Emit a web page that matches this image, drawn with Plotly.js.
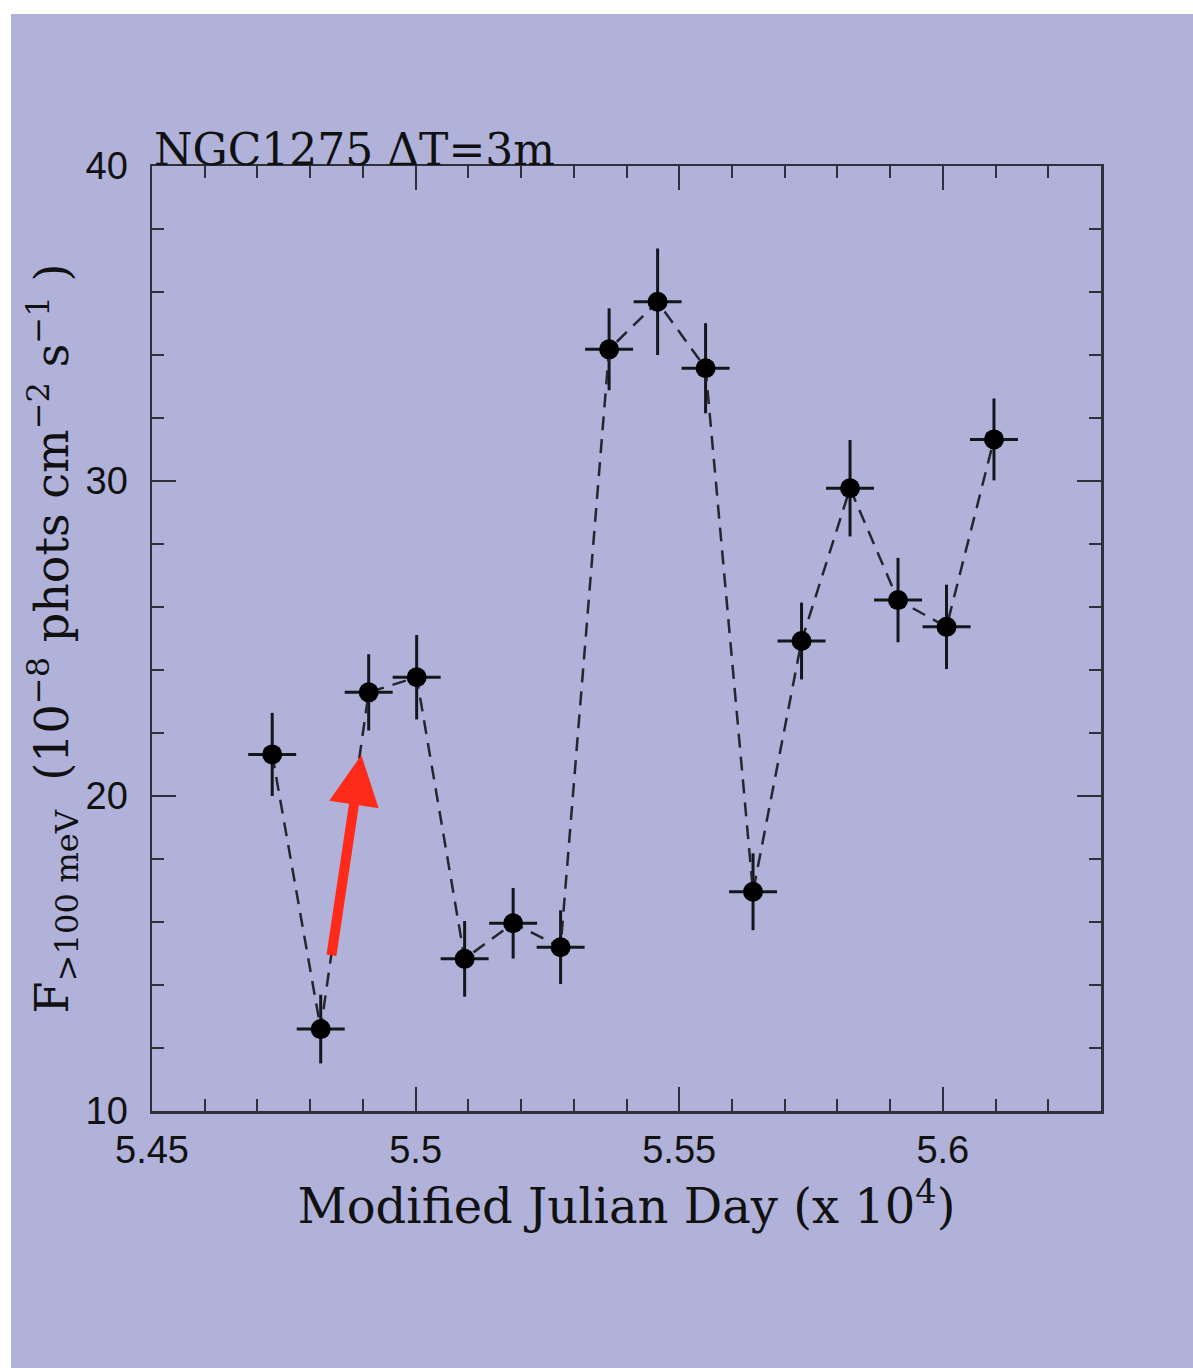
<!DOCTYPE html>
<html><head><meta charset="utf-8">
<script src="https://cdn.plot.ly/plotly-3.0.1.min.js"></script>
<style>
html,body{margin:0;padding:0;background:#ffffff;}
#plot{position:absolute;left:11px;top:14px;width:1182px;height:1354px;}
</style>
</head><body><div id="plot"></div>
<script>
// Modified Julian Day (x 10^4), bin centres
const mjd = [5.4728, 5.4820, 5.4911, 5.5002, 5.5093, 5.5185, 5.5275, 5.5367,
             5.5459, 5.5550, 5.5640, 5.5732, 5.5824, 5.5915, 5.6007, 5.6097];
// F(>100 MeV) in 1e-8 phot cm^-2 s^-1
const flux = [21.32, 12.60, 23.29, 23.77, 14.83, 15.96, 15.20, 34.18,
              35.69, 33.58, 16.96, 24.92, 29.77, 26.22, 25.37, 31.32];
const fluxErr = [1.32, 1.09, 1.21, 1.34, 1.20, 1.12, 1.17, 1.30,
                 1.69, 1.43, 1.22, 1.22, 1.53, 1.34, 1.34, 1.30];
const mjdErr = [0.00455, 0.00455, 0.00455, 0.00455, 0.00455, 0.00455, 0.00455, 0.00455,
                0.00455, 0.00455, 0.00455, 0.00455, 0.00455, 0.00455, 0.00455, 0.00455];

const xTickVals = [5.45, 5.5, 5.55, 5.6];
const xTickText = ['5.45', '5.5', '5.55', '5.6'];
const yTickVals = [10, 20, 30, 40];
const yTickText = ['10', '20', '30', '40'];

// red arrow: tail and tip in data coordinates
const arrowTail = [5.4840, 14.90];
const arrowTip = [5.4897, 21.30];

const ink = '#15151c';
const axisCol = '#30303a';

const trace = {
  x: mjd, y: flux, type: 'scatter', mode: 'lines+markers',
  line: {color: '#25252e', width: 2.5, dash: '14px,9px'},
  marker: {color: '#000000', size: 20},
  error_y: {type: 'data', array: fluxErr, visible: true, color: ink, thickness: 3, width: 0},
  error_x: {type: 'data', array: mjdErr, visible: true, color: ink, thickness: 3, width: 0},
  hoverinfo: 'skip', showlegend: false
};

const axisCommon = {
  showline: true, linecolor: axisCol, linewidth: 2.5, mirror: 'ticks',
  ticks: 'inside', ticklen: 24, tickwidth: 2, tickcolor: axisCol,
  showgrid: false, zeroline: false, fixedrange: true,
  tickfont: {family: 'Liberation Sans, Arial, sans-serif', size: 38, color: '#111'}
};

const layout = {
  width: 1182, height: 1354,
  paper_bgcolor: '#b0b2d9', plot_bgcolor: '#b0b2d9',
  margin: {l: 141, r: 92, t: 152, b: 257, pad: 0},
  xaxis: Object.assign({}, axisCommon, {
    range: [5.45, 5.63], tickmode: 'array', tickvals: xTickVals, ticktext: xTickText,
    ticklabelstandoff: 4,
    minor: {tick0: 5.45, dtick: 0.01, ticks: 'inside', ticklen: 12, tickwidth: 2, tickcolor: axisCol, showgrid: false},
    title: {text: 'Modified Julian Day (x 10<sup>4</sup>)', standoff: 20,
            font: {family: 'DejaVu Serif, serif', size: 48, color: '#111'}}
  }),
  yaxis: Object.assign({}, axisCommon, {
    range: [10, 40], tickmode: 'array', tickvals: yTickVals, ticktext: yTickText,
    ticklabelstandoff: 14,
    minor: {tick0: 10, dtick: 2, ticks: 'inside', ticklen: 12, tickwidth: 2, tickcolor: axisCol, showgrid: false},
    title: {text: 'F<sub>&gt;100 meV</sub>  (10<sup>−8</sup> phots cm<sup>−2</sup> s<sup>−1</sup> )', standoff: 0,
            font: {family: 'DejaVu Serif, serif', size: 46, color: '#111'}}
  }),
  annotations: [
    {xref: 'paper', yref: 'paper', x: 0, y: 1, xanchor: 'left', yanchor: 'bottom', yshift: -11,
     text: 'NGC1275 ΔT=3m', showarrow: false,
     font: {family: 'DejaVu Serif, serif', size: 44, color: '#111'}},
    {xref: 'x', yref: 'y', axref: 'x', ayref: 'y',
     x: arrowTip[0], y: arrowTip[1], ax: arrowTail[0], ay: arrowTail[1],
     text: '', showarrow: true, arrowhead: 2, arrowsize: 1.0, arrowwidth: 10,
     arrowcolor: '#ff2a1a', standoff: 0, startstandoff: 0}
  ]
};

Plotly.newPlot('plot', [trace], layout, {staticPlot: true, displayModeBar: false});
</script>
</body></html>
